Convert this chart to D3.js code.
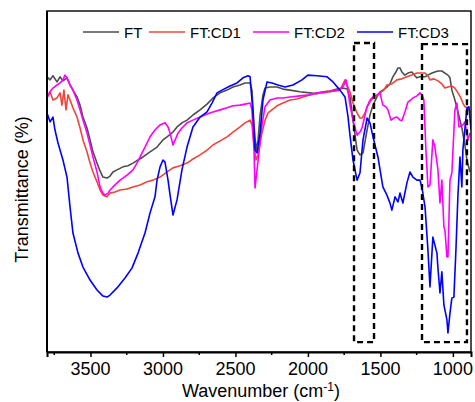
<!DOCTYPE html>
<html>
<head>
<meta charset="utf-8">
<script src="https://cdn.jsdelivr.net/npm/d3@7"></script>
<style>
  body { margin: 0; background: #fff; overflow: hidden; }
  svg { display: block; font-family: Arial, "Liberation Sans", sans-serif; }
</style>
</head>
<body>
<div id="chart"></div>
<script>
// spectra: [wavenumber, transmittance]
const ftData = [
  [3800, 80.7], [3779, 79.8], [3759, 81.0], [3731, 79.2], [3710, 80.7], [3690, 79.5], [3662, 80.4],
  [3641, 78.3], [3621, 76.8], [3593, 74.8], [3572, 72.4], [3552, 68.9], [3524, 65.7], [3503, 62.2],
  [3483, 58.7], [3455, 55.4], [3434, 53.1], [3414, 51.3], [3386, 51.0], [3365, 51.6], [3345, 52.8],
  [3317, 53.4], [3276, 54.3], [3241, 54.6], [3207, 55.4], [3172, 56.3], [3138, 57.2], [3089, 58.7],
  [3041, 60.1], [3000, 62.2], [2972, 63.1], [2931, 64.5], [2903, 66.0], [2869, 67.2], [2834, 68.0],
  [2793, 69.5], [2744, 71.0], [2696, 72.7], [2655, 74.5], [2606, 76.0], [2558, 76.8], [2517, 77.7],
  [2468, 78.3], [2434, 78.9], [2399, 78.9], [2386, 76.8], [2372, 66.6], [2358, 59.2], [2344, 62.2],
  [2330, 69.5], [2310, 75.4], [2296, 77.4], [2262, 77.7], [2213, 77.7], [2172, 77.1], [2124, 76.8],
  [2055, 76.3], [1986, 76.0], [1937, 75.7], [1896, 76.3], [1848, 76.5], [1799, 77.1], [1758, 77.4],
  [1730, 77.1], [1710, 74.8], [1689, 68.0], [1661, 59.2], [1641, 57.8], [1620, 58.4], [1592, 65.1],
  [1572, 69.5], [1551, 72.4], [1524, 74.8], [1503, 76.3], [1483, 76.8], [1455, 77.7], [1434, 78.6],
  [1414, 80.7], [1393, 82.1], [1379, 83.3], [1365, 83.3], [1352, 82.1], [1331, 81.2], [1310, 81.8],
  [1283, 82.1], [1262, 81.0], [1248, 80.4], [1227, 80.7], [1192, 80.7], [1172, 81.2], [1144, 81.8],
  [1124, 82.1], [1103, 82.4], [1076, 82.4], [1055, 81.8], [1034, 81.2], [1020, 80.4], [1007, 76.8],
  [986, 73.9], [965, 70.4], [938, 65.7], [917, 60.7], [903, 56.3], [882, 52.8]
]

const cd1Data = [
  [3800, 74.8], [3779, 76.3], [3759, 73.9], [3731, 74.5], [3710, 76.0], [3697, 72.4], [3683, 76.8],
  [3669, 71.0], [3655, 75.4], [3641, 73.9], [3621, 71.6], [3593, 68.9], [3572, 65.7], [3552, 62.2],
  [3524, 58.7], [3503, 55.4], [3483, 52.8], [3455, 49.9], [3434, 47.5], [3414, 46.0], [3386, 45.5],
  [3365, 46.6], [3331, 46.9], [3296, 47.5], [3248, 47.8], [3207, 48.4], [3158, 49.0], [3110, 49.9],
  [3069, 50.4], [3020, 51.3], [2972, 52.8], [2931, 54.0], [2882, 54.6], [2834, 55.4], [2793, 56.6],
  [2744, 57.8], [2696, 59.2], [2655, 60.7], [2606, 61.9], [2558, 63.1], [2517, 64.5], [2468, 66.0],
  [2434, 67.2], [2399, 68.0], [2386, 66.6], [2372, 60.7], [2358, 56.3], [2344, 57.8], [2330, 61.6],
  [2317, 64.2], [2296, 68.0], [2275, 70.1], [2248, 71.0], [2213, 72.2], [2172, 73.0], [2124, 73.9],
  [2075, 74.2], [2034, 74.8], [1986, 75.4], [1937, 76.0], [1896, 76.0], [1848, 76.3], [1799, 76.8],
  [1772, 77.4], [1751, 79.2], [1744, 79.8], [1730, 78.3], [1710, 76.3], [1689, 73.0], [1661, 70.1],
  [1641, 68.6], [1627, 68.6], [1606, 70.1], [1592, 71.9], [1572, 73.3], [1551, 74.5], [1524, 75.1],
  [1503, 76.0], [1476, 76.8], [1455, 78.3], [1421, 78.6], [1386, 79.8], [1352, 80.1], [1317, 80.7],
  [1283, 81.2], [1248, 81.8], [1213, 81.8], [1192, 81.8], [1172, 81.0], [1158, 79.8], [1131, 80.1],
  [1103, 79.5], [1076, 78.6], [1055, 77.4], [1034, 77.7], [1007, 78.0], [986, 77.4], [965, 76.0],
  [945, 74.5], [931, 73.0], [917, 71.9], [896, 71.6], [882, 70.4]
]

const cd2Data = [
  [3800, 74.5], [3779, 76.3], [3759, 77.4], [3731, 78.3], [3710, 78.9], [3690, 79.8], [3676, 81.2],
  [3662, 80.4], [3641, 78.3], [3621, 76.8], [3593, 73.9], [3572, 71.0], [3552, 68.0], [3524, 64.2],
  [3503, 60.7], [3483, 57.2], [3455, 52.8], [3434, 48.4], [3414, 46.6], [3400, 46.0], [3379, 46.6],
  [3365, 47.5], [3331, 49.0], [3296, 50.4], [3248, 51.9], [3207, 53.4], [3179, 55.4], [3158, 57.2],
  [3124, 60.1], [3089, 63.1], [3055, 65.1], [3020, 66.6], [2986, 67.2], [2965, 66.0], [2951, 64.2],
  [2931, 60.7], [2910, 62.8], [2896, 64.2], [2869, 65.7], [2834, 67.2], [2793, 68.0], [2744, 68.9],
  [2696, 69.8], [2655, 70.4], [2606, 71.0], [2558, 71.6], [2517, 72.2], [2468, 72.4], [2434, 72.7],
  [2399, 73.0], [2386, 71.0], [2372, 59.2], [2365, 48.1], [2351, 53.4], [2330, 61.3], [2317, 66.6],
  [2296, 71.9], [2262, 73.9], [2213, 74.5], [2172, 74.5], [2124, 74.8], [2055, 75.1], [1986, 75.4],
  [1937, 76.0], [1882, 76.3], [1827, 76.5], [1779, 76.8], [1751, 78.3], [1737, 79.8], [1723, 76.3],
  [1710, 72.4], [1689, 68.0], [1661, 63.6], [1641, 64.5], [1627, 65.7], [1606, 69.5], [1592, 71.9],
  [1572, 73.9], [1551, 74.8], [1524, 75.4], [1503, 76.0], [1483, 72.4], [1462, 71.9], [1448, 71.0],
  [1427, 68.0], [1407, 68.6], [1386, 68.9], [1365, 68.0], [1352, 67.8], [1331, 70.4], [1310, 73.3],
  [1290, 73.9], [1276, 74.5], [1248, 75.1], [1227, 76.0], [1213, 75.4], [1200, 73.9], [1186, 59.2],
  [1172, 48.4], [1158, 49.0], [1138, 62.2], [1124, 60.1], [1103, 53.4], [1089, 43.7], [1076, 50.4],
  [1062, 36.7], [1055, 35.8], [1041, 27.9], [1034, 27.9], [1020, 50.4], [1007, 52.5], [986, 71.0],
  [972, 73.0], [958, 66.0], [931, 66.6], [917, 67.5], [896, 62.2], [882, 64.2]
]

const cd3Data = [
  [3800, 70.1], [3779, 67.5], [3759, 68.9], [3745, 65.1], [3724, 61.3], [3690, 56.3], [3662, 51.3],
  [3641, 42.5], [3621, 34.9], [3586, 29.0], [3552, 24.9], [3503, 21.1], [3455, 18.2], [3414, 16.4],
  [3386, 16.1], [3365, 16.7], [3317, 18.8], [3262, 21.7], [3214, 24.6], [3172, 29.0], [3124, 34.9],
  [3089, 40.8], [3055, 45.5], [3041, 50.4], [3020, 54.3], [3000, 56.3], [2986, 55.7], [2965, 50.4],
  [2951, 46.0], [2931, 40.2], [2903, 44.6], [2869, 53.4], [2834, 60.1], [2793, 66.0], [2744, 68.9],
  [2696, 70.4], [2662, 73.0], [2627, 76.0], [2593, 76.8], [2537, 78.0], [2489, 78.9], [2448, 80.4],
  [2413, 81.0], [2399, 80.7], [2379, 70.1], [2365, 59.2], [2351, 58.4], [2330, 64.2], [2310, 73.9],
  [2282, 79.2], [2248, 78.9], [2207, 78.3], [2158, 77.7], [2103, 78.3], [2041, 79.8], [2000, 81.2],
  [1937, 81.0], [1868, 80.7], [1827, 79.2], [1779, 76.8], [1744, 74.8], [1723, 68.9], [1710, 63.6],
  [1689, 56.3], [1661, 50.4], [1641, 52.5], [1620, 62.2], [1592, 68.6], [1572, 67.2], [1551, 63.1],
  [1517, 57.2], [1483, 48.4], [1455, 46.0], [1434, 43.7], [1421, 41.6], [1399, 45.5], [1379, 44.0],
  [1365, 46.6], [1345, 43.7], [1317, 49.6], [1296, 52.8], [1276, 51.3], [1248, 50.4], [1227, 50.4],
  [1213, 48.1], [1192, 42.5], [1172, 29.9], [1158, 19.1], [1138, 33.7], [1110, 29.0], [1103, 24.6],
  [1089, 17.3], [1076, 23.5], [1062, 13.8], [1041, 9.4], [1034, 5.6], [1020, 11.4], [1007, 15.8],
  [993, 16.1], [979, 29.9], [965, 46.0], [951, 57.2], [938, 48.4], [931, 59.2], [903, 71.6],
  [889, 71.9], [875, 65.1]
]

const seriesNames = ['FT', 'FT:CD1', 'FT:CD2', 'FT:CD3']
const seriesColors = ['#4d4d4d', '#f0453a', '#ff00ff', '#0000ff']
const majorTicks = [3500, 3000, 2500, 2000, 1500, 1000]
const minorTicks = [3750, 3250, 2750, 2250, 1750, 1250]
// dashed boxes: [wn left, wn right, T top, T bottom]
const boxes = [[1682, 1544, 90.6, 2.9], [1213, 903, 90.3, 2.9]]

const width = 475
const height = 402
const margin = { top: 11, right: 4, bottom: 50, left: 47 }

const svg = d3.select('#chart').append('svg')
  .attr('width', width).attr('height', height)

//scales in page coordinates, so texts need no group transforms
const xScale = d3.scaleLinear().domain([3800, 875]).range([margin.left, width - margin.right])
const yScale = d3.scaleLinear().domain([0, 100]).range([height - margin.bottom, margin.top])
const x0 = margin.left, x1 = width - margin.right
const y0 = margin.top, y1 = height - margin.bottom

svg.append('defs').append('clipPath').attr('id', 'clip')
  .append('rect').attr('x', x0).attr('y', y0).attr('width', x1 - x0).attr('height', y1 - y0)

//spectra
const line = d3.line().x(d => xScale(d[0])).y(d => yScale(d[1]))
const allData = [ftData, cd1Data, cd2Data, cd3Data]
svg.append('g').attr('clip-path', 'url(#clip)')
  .selectAll('path').data(allData).enter().append('path')
  .attr('d', line)
  .attr('fill', 'none')
  .attr('stroke', (d, i) => seriesColors[i])
  .attr('stroke-width', 1.6)
  .attr('stroke-linejoin', 'round')

//dashed boxes
svg.selectAll('.box').data(boxes).enter().append('rect')
  .attr('class', 'box')
  .attr('x', d => xScale(d[0]))
  .attr('y', d => yScale(d[2]))
  .attr('width', d => xScale(d[1]) - xScale(d[0]))
  .attr('height', d => yScale(d[3]) - yScale(d[2]))
  .attr('fill', 'none')
  .attr('stroke', '#000')
  .attr('stroke-width', 2.4)
  .attr('stroke-dasharray', '6,4')

//frame
svg.append('rect')
  .attr('x', x0).attr('y', y0).attr('width', x1 - x0).attr('height', y1 - y0)
  .attr('fill', 'none').attr('stroke', '#000').attr('stroke-width', 1.4)

//x axis: tick marks from d3.axisBottom, labels placed on their own
const xAxisG = svg.append('g').attr('transform', `translate(0, ${y1})`)
xAxisG.call(d3.axisBottom(xScale).tickValues(majorTicks).tickSize(5).tickFormat(''))
xAxisG.select('.domain').attr('stroke-width', 2)
xAxisG.selectAll('.tick line').attr('stroke-width', 1.5)
xAxisG.selectAll('.minor').data(minorTicks).enter().append('line')
  .attr('class', 'minor')
  .attr('x1', d => xScale(d)).attr('x2', d => xScale(d))
  .attr('y1', 0).attr('y2', 3)
  .attr('stroke', '#000').attr('stroke-width', 1.5)

svg.selectAll('.tick-label').data(majorTicks).enter().append('text')
  .attr('class', 'tick-label')
  .attr('x', d => xScale(d)).attr('y', y1 + 23)
  .attr('text-anchor', 'middle').attr('font-size', 18)
  .text(d => d)

//left axis line, no ticks
svg.append('line').attr('x1', x0).attr('x2', x0).attr('y1', y0).attr('y2', y1)
  .attr('stroke', '#000').attr('stroke-width', 2)

//axis titles
const xTitle = svg.append('text')
  .attr('x', (x0 + x1) / 2 + 2).attr('y', 397)
  .attr('text-anchor', 'middle').attr('font-size', 18)
xTitle.append('tspan').text('Wavenumber (cm')
xTitle.append('tspan').attr('dy', -6).attr('font-size', 12).text('-1')
xTitle.append('tspan').attr('dy', 6).text(')')

svg.append('text')
  .attr('x', 28).attr('y', (y0 + y1) / 2 + 8)
  .attr('transform', `rotate(-90, 28, ${(y0 + y1) / 2 + 8})`)
  .attr('text-anchor', 'middle').attr('font-size', 18)
  .text('Transmittance (%)')

//legend
const legendX = [83, 149, 253, 357]
svg.selectAll('.legend-line').data(seriesNames).enter().append('line')
  .attr('class', 'legend-line')
  .attr('x1', (d, i) => legendX[i]).attr('x2', (d, i) => legendX[i] + 36)
  .attr('y1', 32).attr('y2', 32)
  .attr('stroke', (d, i) => seriesColors[i]).attr('stroke-width', 1.6)
svg.selectAll('.legend-text').data(seriesNames).enter().append('text')
  .attr('class', 'legend-text')
  .attr('x', (d, i) => legendX[i] + 41).attr('y', 37.5)
  .attr('font-size', 15).text(d => d)
</script>
</body>
</html>
